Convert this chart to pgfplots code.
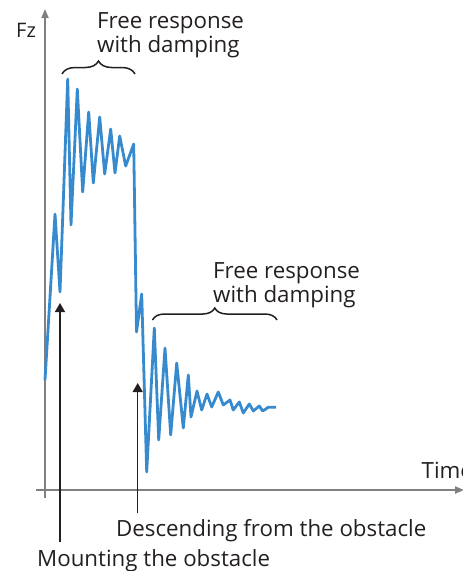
\documentclass[border=0pt]{standalone}
\usepackage{pgfplots}
\pgfplotsset{compat=1.18}
\usepackage{fontspec}
\setmainfont{Open Sans}
\usetikzlibrary{arrows.meta,decorations.pathreplacing}

\definecolor{sig}{RGB}{55,138,206}
\definecolor{axgray}{RGB}{128,128,128}
\definecolor{txt}{RGB}{35,31,32}

\begin{document}
\begin{tikzpicture}
\useasboundingbox (0,0) rectangle (463pt,571pt);
\begin{axis}[
    scale only axis,
    width=463pt, height=571pt,
    xmin=0, xmax=463,
    ymin=0, ymax=571,
    y dir=reverse,
    hide axis,
    clip=false,
    ]
    % axes
    \draw[axgray, line width=2pt, -{Triangle[length=9pt,width=7pt]}]
        (axis cs:45,498) -- (axis cs:45,9);
    \draw[axgray, line width=2pt, -{Triangle[length=9pt,width=7pt]}]
        (axis cs:36,490) -- (axis cs:464,490);

    % signal
    \addplot[sig, line width=2.8pt, line join=round, no marks] coordinates {
        (45,380) (55,214) (60,292) (67.7,79) (71,225) (77.3,89)
        (82.7,192) (88.7,112) (93.3,183) (99.7,117) (104.7,174)
        (110.7,129) (115,173) (119.7,136) (125.7,166) (133.7,144)
        (136.5,332) (141.7,294) (146.7,472) (154.3,328) (158.7,440)
        (165,348) (170.7,435) (176.7,363) (183.3,428) (188.3,375)
        (191,417) (197,391) (201.7,410) (207,394) (211.7,407)
        (218.3,392) (223.3,405) (230,400) (233.3,410) (239.3,402)
        (243.3,413) (249.3,404) (253.3,411) (259.3,406) (262.7,411)
        (268.3,407.3) (276,407.3)
    };

    % annotation arrows
    \draw[txt, line width=1.4pt, -{Triangle[length=9pt,width=10pt]}]
        (axis cs:60,542) -- (axis cs:60,303);
    \draw[txt, line width=1.4pt, -{Triangle[length=9pt,width=10pt]}]
        (axis cs:137.7,513) -- (axis cs:137.7,383);

    % braces
    \draw[txt, line width=1.5pt, decorate, decoration={brace, amplitude=13pt}]
        (axis cs:62,74) -- (axis cs:135,74);
    \draw[txt, line width=1.5pt, decorate, decoration={brace, amplitude=12pt}]
        (axis cs:152.5,320) -- (axis cs:277,320);

    % labels
    \node[txt, anchor=base west, inner sep=0pt, font=\fontsize{20}{22}\selectfont]
        at (axis cs:16,37) {Fz};
    \node[txt, anchor=base west, inner sep=0pt, font=\fontsize{22.3}{24}\selectfont]
        at (axis cs:97,28) {Free response};
    \node[txt, anchor=base west, inner sep=0pt, font=\fontsize{22.3}{24}\selectfont]
        at (axis cs:97,52) {with damping};
    \node[txt, anchor=base west, inner sep=0pt, font=\fontsize{22.3}{24}\selectfont]
        at (axis cs:213,278) {Free response};
    \node[txt, anchor=base west, inner sep=0pt, font=\fontsize{22.3}{24}\selectfont]
        at (axis cs:213,302) {with damping};
    \node[txt, anchor=base west, inner sep=0pt, font=\fontsize{22.3}{24}\selectfont]
        at (axis cs:421.5,478) {Time};
    \node[txt, anchor=base west, inner sep=0pt, font=\fontsize{22.3}{24}\selectfont]
        at (axis cs:116,536) {Descending from the obstacle};
    \node[txt, anchor=base west, inner sep=0pt, font=\fontsize{22.3}{24}\selectfont]
        at (axis cs:37,566) {Mounting the obstacle};
\end{axis}
\end{tikzpicture}
\end{document}
